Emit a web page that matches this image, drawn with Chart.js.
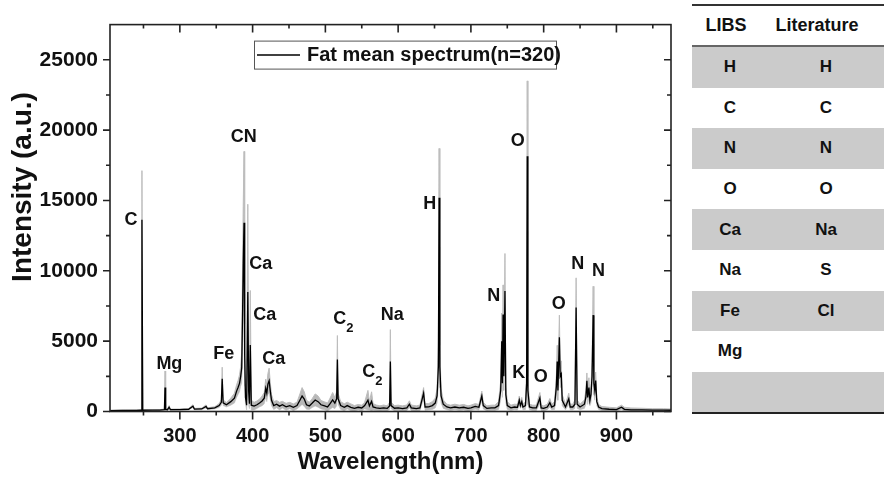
<!DOCTYPE html>
<html>
<head>
<meta charset="utf-8">
<script src="https://cdn.jsdelivr.net/npm/chart.js@4.4.1/dist/chart.umd.min.js"></script>
<style>
    html, body { margin: 0; padding: 0; background: #fff; }
    body { width: 884px; height: 482px; position: relative; overflow: hidden; font-family: "Liberation Sans", Arial, sans-serif; }
    #chartBox { position: absolute; left: 0; top: 0; width: 692px; height: 482px; }
    #elemTable { position: absolute; left: 692px; top: 4px; width: 192px; font-weight: bold; color: #111; }
    .row { display: flex; align-items: center; height: 40.6px; font-size: 17px; }
    .row.gray { background: #cbcbcb; }
    .row .c1 { width: 76px; text-align: center; }
    .row .c2 { width: 116px; text-align: center; }
    .head { height: 39px; border-top: 2px solid #333; border-bottom: 2px solid #666; font-size: 18px; }
    .head .c1 { width: 68px; }
    .head .c2 { width: 114px; }
    .last { border-bottom: 2px solid #222; }
</style>
</head>
<body>
<div id="chartBox"><canvas id="spectrum"></canvas></div>
<div id="elemTable"></div>
<script>
/* Fat LIBS mean spectrum with +/- 1 SD band */

const wavelength = [
    204, 220, 240, 246.8, 247.9, 249, 262, 272, 278.8, 279.6, 280.5, 283, 285.2, 287, 300,
    312, 318, 320, 330, 336, 338, 348, 354, 357, 358.2, 359.5, 364, 370, 375, 378, 380,
    382, 383.6, 385, 386.2, 387.1, 388.2, 389.1, 390.2, 391.8, 393.4, 394.6, 395.6, 396.8, 398.2,
    402, 406, 410, 413, 416, 418, 419.5, 421, 422.7, 424.2, 426, 429,
    433, 437, 441, 446, 451, 456, 461, 465, 468, 471, 474, 478, 482, 486, 490, 494, 499, 503, 506, 510, 513, 515.5, 516.5, 517.5, 521,
    526, 530, 535, 540, 545, 550, 554, 558.5, 560.5, 563.5, 565.5, 570, 575, 580, 585, 588.3, 589.3, 590.3, 595, 600, 606, 612, 615.5, 618, 625, 630, 635, 637, 642, 647,
    651, 653.5, 655.3, 656.3, 657.3, 659, 662, 667, 672, 678, 684, 690, 696, 700, 706, 711, 715, 717, 722,
    728, 733, 738, 741, 742.4, 743.3, 744.2, 745.3, 746.8, 748, 750, 755, 760, 764, 766.5, 768, 769.9, 771.5, 775, 776.6, 777.4, 778.3, 780.5, 785, 790, 794.8, 796.5,
    800, 805, 808.5, 811, 815, 817.5, 818.6, 819.6, 821.6, 822.7, 824.2, 825.5, 830, 834.5, 836.5, 840, 843, 844.6, 846, 850, 856, 858, 859.4, 860.5, 862.2, 863.5, 865, 866.5, 868, 869, 870.3, 871.5, 873, 875.5,
    880, 890, 900, 907, 911, 920, 935, 950, 965, 975,
];

const meanIntensity = [
    60, 70, 80, 90, 13630, 90, 95, 100, 130, 1710, 150, 130, 300, 130, 140,
    160, 380, 170, 180, 360, 200, 260, 420, 650, 2330, 620, 480, 700, 950, 1450, 1700,
    2000, 2500, 3100, 7000, 10400, 13420, 4000, 1000, 450, 8500, 1400, 550, 4720, 450,
    380, 480, 620, 750, 950, 1650, 1300, 1950, 2190, 1500, 800, 420,
    520, 380, 480, 330, 420, 300, 420, 800, 1100, 880, 480, 400, 600, 820, 700, 480, 400, 320, 520, 820, 600, 900, 3700, 900, 420,
    300, 420, 300, 220, 300, 250, 420, 800, 400, 720, 320, 260, 220, 260, 220, 400, 3560, 420, 230, 260, 200, 260, 520, 260, 210, 260, 1300, 320, 330, 420,
    600, 1100, 3200, 15200, 3200, 1100, 520, 320, 260, 320, 260, 300, 220, 260, 360, 300, 1100, 420, 220,
    260, 260, 420, 1500, 5000, 2000, 6900, 2500, 8560, 1200, 420, 260, 320, 300, 800, 420, 700, 320, 420, 2000, 18150, 1500, 320, 260, 260, 950, 260,
    220, 320, 620, 320, 420, 1800, 3560, 1500, 5270, 2500, 2670, 800, 320, 900, 320, 320, 520, 7400, 520, 320, 520, 1000, 2190, 1000, 1700, 800, 1200, 2500, 6850, 2000, 1500, 2200, 700, 320,
    200, 160, 140, 300, 150, 120, 120, 100, 100, 90,
];

// mean + 1 SD
const upperIntensity = [
    90, 100, 110, 120, 17120, 120, 125, 135, 170, 2880, 200, 180, 420, 170, 180,
    210, 480, 220, 240, 470, 260, 340, 560, 850, 3150, 820, 640, 950, 1300, 1900, 2200,
    2600, 3200, 4200, 10500, 14600, 18490, 6200, 1500, 800, 14730, 2400, 900, 8600, 800,
    650, 750, 900, 1100, 1350, 2300, 1900, 2700, 3080, 2100, 1200, 700,
    780, 650, 720, 580, 650, 540, 660, 1250, 1700, 1400, 800, 650, 920, 1250, 1100, 780, 680, 600, 900, 1350, 1000, 1400, 5400, 1300, 700,
    550, 660, 540, 420, 500, 450, 660, 1500, 700, 1400, 560, 460, 400, 460, 400, 650, 5820, 650, 420, 450, 400, 460, 760, 460, 400, 460, 1700, 560, 560, 700,
    950, 1600, 4700, 18700, 4700, 1600, 820, 520, 450, 520, 450, 500, 400, 450, 560, 500, 1450, 660, 400,
    450, 450, 700, 2200, 7000, 3000, 9000, 3500, 11230, 1800, 700, 450, 520, 500, 1100, 620, 1000, 520, 700, 3000, 23500, 2500, 520, 450, 450, 1350, 450,
    400, 520, 920, 520, 700, 2600, 4700, 2200, 6850, 3300, 3600, 1200, 520, 1300, 520, 520, 820, 9500, 820, 520, 820, 1500, 2740, 1500, 2400, 1200, 1800, 3500, 8900, 2800, 2200, 2800, 1000, 500,
    350, 300, 260, 450, 300, 250, 230, 200, 200, 180,
];

const xTickValues = [300, 400, 500, 600, 700, 800, 900];
const xMinorTicks = [250, 350, 450, 550, 650, 750, 850, 950];
const yTickValues = [0, 5000, 10000, 15000, 20000, 25000];
const yMinorTicks = [2500, 7500, 12500, 17500, 22500];

// peak annotations: text, wavelength, intensity of label centre
const peakText = ['C', 'Mg', 'Fe', 'CN', 'Ca', 'Ca', 'Ca', 'C2', 'C2', 'Na', 'H', 'N', 'O', 'K', 'O', 'O', 'N', 'N'];
const peakWl = [232.7, 285.6, 360.4, 387.9, 411.3, 416.8, 429, 519.8, 559.6, 591.9, 643.4, 731.3, 764.3, 765.7, 795.9, 820.6, 846.7, 875.5];
const peakY = [13630, 3400, 4090, 19540, 10470, 6830, 3740, 6560, 2780, 6830, 14730, 8210, 19200, 2710, 2440, 7610, 10470, 9990];

const libsElements = ['H', 'C', 'N', 'O', 'Ca', 'Na', 'Fe', 'Mg', ''];
const literatureElements = ['H', 'C', 'N', 'O', 'Na', 'S', 'Cl', '', ''];

const BOLD = 'bold';
const FONT_FAMILY = '"Liberation Sans", Arial, sans-serif';

// table on the right
(function buildTable() {
    let html = '<div class="row head"><div class="c1">LIBS</div><div class="c2">Literature</div></div>';
    libsElements.forEach((el, i) => {
        const cls = ['row'];
        if (i % 2 === 0) cls.push('gray');
        if (i === libsElements.length - 1) cls.push('last');
        html += `<div class="${cls.join(' ')}"><div class="c1">${el}</div><div class="c2">${literatureElements[i]}</div></div>`;
    });
    document.getElementById('elemTable').innerHTML = html;
})();

const frameTicks = {
    id: 'frameTicks',
    afterDatasetsDraw(chart) {
        const { ctx, chartArea: a, scales: { x, y } } = chart;
        ctx.save();
        ctx.strokeStyle = '#222';
        ctx.lineWidth = 1.6;
        ctx.strokeRect(a.left, a.top, a.right - a.left, a.bottom - a.top);
        ctx.beginPath();
        const xt = (v, len) => {
            const px = x.getPixelForValue(v);
            ctx.moveTo(px, a.bottom); ctx.lineTo(px, a.bottom + len);
            ctx.moveTo(px, a.top); ctx.lineTo(px, a.top + len);
        };
        const yt = (v, len) => {
            const py = y.getPixelForValue(v);
            ctx.moveTo(a.left, py); ctx.lineTo(a.left - len, py);
            ctx.moveTo(a.right, py); ctx.lineTo(a.right - len, py);
        };
        xTickValues.forEach(v => xt(v, 8));
        xMinorTicks.forEach(v => xt(v, 4));
        yTickValues.forEach(v => yt(v, 7));
        yMinorTicks.forEach(v => yt(v, 4));
        ctx.stroke();
        ctx.restore();
    },
};

const peakLabels = {
    id: 'peakLabels',
    afterDatasetsDraw(chart) {
        const { ctx, scales: { x, y } } = chart;
        ctx.save();
        ctx.fillStyle = '#111';
        ctx.textAlign = 'center';
        ctx.textBaseline = 'middle';
        peakText.forEach((t, i) => {
            const px = x.getPixelForValue(peakWl[i]);
            const py = y.getPixelForValue(peakY[i]);
            if (t === 'C2') {
                ctx.font = `${BOLD} 18px ${FONT_FAMILY}`;
                ctx.fillText('C', px, py);
                ctx.font = `${BOLD} 13px ${FONT_FAMILY}`;
                ctx.fillText('2', px + 10, py + 9);
            } else {
                ctx.font = `${BOLD} 18px ${FONT_FAMILY}`;
                ctx.fillText(t, px, py);
            }
        });
        ctx.restore();
    },
};

// boxed legend + rotated y title
const legendAndTitle = {
    id: 'legendAndTitle',
    afterDraw(chart) {
        const { ctx, chartArea: a } = chart;
        ctx.save();
        const bx = a.left + 144, by = a.top + 16;
        ctx.strokeStyle = '#555';
        ctx.lineWidth = 1;
        ctx.strokeRect(bx + 0.5, by + 0.5, 302, 28);
        ctx.strokeStyle = '#000';
        ctx.lineWidth = 1.5;
        ctx.beginPath();
        ctx.moveTo(bx + 3, by + 14.5);
        ctx.lineTo(bx + 46, by + 14.5);
        ctx.stroke();
        ctx.fillStyle = '#111';
        ctx.font = `${BOLD} 20px ${FONT_FAMILY}`;
        ctx.textBaseline = 'middle';
        ctx.fillText(chart.data.datasets[0].label, bx + 53, by + 15);

        ctx.translate(23, 187);
        ctx.rotate(-Math.PI / 2);
        ctx.textAlign = 'center';
        ctx.font = `${BOLD} 28px ${FONT_FAMILY}`;
        ctx.fillText('Intensity (a.u.)', 0, 0);
        ctx.restore();
    },
};

const meanPts = wavelength.map((w, i) => ({ x: w, y: meanIntensity[i] }));
const upperPts = wavelength.map((w, i) => ({ x: w, y: upperIntensity[i] }));
const lowerPts = wavelength.map((w, i) => ({ x: w, y: Math.max(0, 2 * meanIntensity[i] - upperIntensity[i]) }));

new Chart(document.getElementById('spectrum'), {
    type: 'line',
    data: {
        datasets: [
            {
                label: 'Fat mean spectrum(n=320)',
                data: meanPts,
                borderColor: '#000',
                borderWidth: 1.3,
                pointRadius: 0,
                fill: false,
                tension: 0,
            },
            {
                label: 'mean + SD',
                data: upperPts,
                borderColor: '#bdbdbd',
                backgroundColor: '#b8b8b8',
                borderWidth: 1,
                pointRadius: 0,
                fill: '+1',
                tension: 0,
            },
            {
                label: 'mean - SD',
                data: lowerPts,
                borderColor: '#b8b8b8',
                borderWidth: 0.5,
                pointRadius: 0,
                fill: false,
                tension: 0,
            },
        ],
    },
    options: {
        responsive: true,
        maintainAspectRatio: false,
        animation: false,
        layout: { padding: { top: 11, right: 21, left: 0, bottom: 0 } },
        plugins: {
            legend: { display: false },
            tooltip: { enabled: false },
        },
        scales: {
            x: {
                type: 'linear',
                min: 204,
                max: 975,
                afterBuildTicks: s => { s.ticks = xTickValues.map(v => ({ value: v })); },
                afterFit: s => { s.height = 70.5; },
                grid: { display: false, drawTicks: false },
                border: { display: false },
                ticks: {
                    autoSkip: false,
                    maxRotation: 0,
                    padding: 13,
                    color: '#111',
                    callback: v => String(v),
                    font: { family: FONT_FAMILY, size: 20, weight: BOLD },
                },
                title: {
                    display: true,
                    text: 'Wavelength(nm)',
                    color: '#111',
                    font: { family: FONT_FAMILY, size: 24, weight: BOLD },
                    padding: { top: 0, bottom: 5 },
                },
            },
            y: {
                min: 0,
                max: 27500,
                afterBuildTicks: s => { s.ticks = yTickValues.map(v => ({ value: v })); },
                afterFit: s => { s.width = 110; },
                grid: { display: false, drawTicks: false },
                border: { display: false },
                ticks: {
                    padding: 12,
                    color: '#111',
                    callback: v => String(v),
                    font: { family: FONT_FAMILY, size: 21, weight: BOLD },
                },
            },
        },
    },
    plugins: [frameTicks, peakLabels, legendAndTitle],
});
</script>
</body>
</html>
